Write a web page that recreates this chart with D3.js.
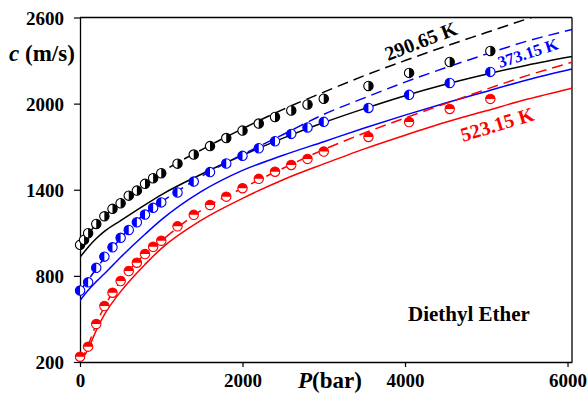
<!DOCTYPE html>
<html>
<head>
<meta charset="utf-8">
<title>Diethyl Ether</title>
<script src="https://d3js.org/d3.v7.min.js"></script>
<style>
    body { margin: 0; padding: 0; background: #fff; }
    svg { display: block; }
    text { font-family: "Liberation Serif", "Times New Roman", serif; font-weight: bold; }
</style>
</head>
<body>
<svg width="588" height="397"></svg>
<script>
// measured points, P in bar, c in m/s
var pBlack = [1, 50, 100, 200, 300, 400, 500, 600, 700, 800, 900, 1000, 1200, 1400, 1600, 1800, 2000, 2200, 2400, 2600, 2800, 3000, 3550, 4050, 4550, 5050];
var cBlack = [1016, 1051, 1097, 1162, 1215, 1267, 1306, 1359, 1394, 1441, 1480, 1515, 1582, 1645, 1704, 1760, 1812, 1861, 1907, 1952, 1994, 2034, 2123, 2214, 2290, 2367];
var pBlue = [1, 100, 200, 300, 400, 500, 600, 700, 800, 900, 1000, 1200, 1400, 1600, 1800, 2000, 2200, 2400, 2600, 2800, 3000, 3550, 4050, 4550, 5050];
var cBlue = [698, 755, 856, 934, 999, 1065, 1120, 1173, 1227, 1274, 1312, 1381, 1457, 1523, 1583, 1636, 1689, 1738, 1789, 1834, 1873, 1970, 2061, 2144, 2221];
var pRed = [1, 100, 200, 300, 400, 500, 600, 700, 800, 900, 1000, 1200, 1400, 1600, 1800, 2000, 2200, 2400, 2600, 2800, 3000, 3550, 4050, 4550, 5050];
var cRed = [237, 307, 465, 590, 683, 764, 834, 892, 952, 1003, 1045, 1145, 1225, 1294, 1352, 1411, 1476, 1526, 1573, 1615, 1666, 1768, 1872, 1963, 2033];

// curves (dashed = fit, solid = prediction)
var pLine = [0, 100, 200, 300, 500, 800, 1000, 1500, 2000, 2500, 3000, 3500, 4000, 4500, 5000, 5500, 6055];
var cBlackDash = [1016, 1090, 1160, 1215, 1310, 1440, 1520, 1680, 1825, 1960, 2080, 2195, 2300, 2400, 2495, 2590, 2690];
var cBlackSolid = [930, 1000, 1060, 1110, 1185, 1295, 1365, 1510, 1640, 1760, 1868, 1965, 2055, 2135, 2205, 2268, 2328];
var cBlueDash = [698, 770, 850, 925, 1062, 1235, 1315, 1495, 1645, 1785, 1925, 2040, 2150, 2250, 2345, 2435, 2516];
var cBlueSolid = [628, 700, 760, 815, 930, 1090, 1190, 1390, 1535, 1640, 1735, 1830, 1920, 2005, 2085, 2165, 2242];
var cRedDash = [200, 315, 465, 585, 764, 952, 1045, 1260, 1411, 1550, 1680, 1795, 1900, 2000, 2100, 2195, 2288];
var cRedSolid = [200, 290, 420, 530, 690, 880, 990, 1190, 1340, 1470, 1580, 1685, 1780, 1870, 1950, 2030, 2108];

var xTicks = [0, 2000, 4000, 6000];
var yTicks = [200, 800, 1400, 2000, 2600];

var svg = d3.select('svg');
var margin = { left: 80, right: 572, top: 17.5, bottom: 362 };

var x = d3.scaleLinear().domain([0, 6055]).range([margin.left, margin.right]);
var y = d3.scaleLinear().domain([200, 2600]).range([margin.bottom, margin.top]);

svg.append('clipPath').attr('id', 'plot')
    .append('rect')
    .attr('x', margin.left).attr('y', margin.top)
    .attr('width', margin.right - margin.left).attr('height', margin.bottom - margin.top);

// axes
var xAxis = svg.append('g')
    .attr('transform', 'translate(0,' + margin.bottom + ')')
    .call(d3.axisBottom(x).tickValues(xTicks).tickSize(5).tickSizeOuter(0).tickFormat(d3.format('d')));
var yAxis = svg.append('g')
    .attr('transform', 'translate(' + margin.left + ',0)')
    .call(d3.axisLeft(y).tickValues(yTicks).tickSize(6).tickSizeOuter(0).tickFormat(d3.format('d')));

xAxis.select('.domain').attr('stroke', '#000').attr('stroke-width', 1.3);
yAxis.select('.domain').attr('stroke', '#000').attr('stroke-width', 1.3);
xAxis.selectAll('.tick line').attr('stroke-width', 1.2);
yAxis.selectAll('.tick line').attr('stroke-width', 1.2);
xAxis.selectAll('.tick text')
    .attr('font-size', 19).attr('font-family', 'Liberation Serif').attr('font-weight', 'bold')
    .attr('fill', '#000').attr('y', 12);
yAxis.selectAll('.tick text')
    .attr('font-size', 19).attr('font-family', 'Liberation Serif').attr('font-weight', 'bold')
    .attr('fill', '#000').attr('x', -16).attr('dy', '0.35em');

// top and right border
svg.append('line').attr('x1', margin.left).attr('x2', margin.right).attr('y1', margin.top).attr('y2', margin.top)
    .attr('stroke', '#000').attr('stroke-width', 1.3);
svg.append('line').attr('x1', margin.right).attr('x2', margin.right).attr('y1', margin.top).attr('y2', margin.bottom)
    .attr('stroke', '#000').attr('stroke-width', 1.3);

// curves
var line = d3.line()
    .x(function(d) { return x(d[0]); })
    .y(function(d) { return y(d[1]); })
    .curve(d3.curveMonotoneX);

var curves = [
    { c: cBlackSolid, color: '#000', dash: null },
    { c: cBlueSolid, color: '#0000ff', dash: null },
    { c: cRedSolid, color: '#ff0000', dash: null },
    { c: cBlackDash, color: '#000', dash: '11,6' },
    { c: cBlueDash, color: '#0000ff', dash: '11,6' },
    { c: cRedDash, color: '#ff0000', dash: '11,6' }
];

var gLines = svg.append('g').attr('clip-path', 'url(#plot)');
curves.forEach(function(s) {
    gLines.append('path')
        .datum(pLine.map(function(p, i) { return [p, s.c[i]]; }))
        .attr('d', line)
        .attr('fill', 'none')
        .attr('stroke', s.color)
        .attr('stroke-width', 1.5)
        .attr('stroke-dasharray', s.dash);
});

// half filled markers
var r = 4.7;
var halfArc = d3.arc().innerRadius(0).outerRadius(r);
var series = [
    { p: pBlack, c: cBlack, color: '#000', a0: 0, a1: Math.PI },
    { p: pBlue, c: cBlue, color: '#0000ff', a0: Math.PI, a1: 2 * Math.PI },
    { p: pRed, c: cRed, color: '#ff0000', a0: -Math.PI / 2, a1: Math.PI / 2 }
];

series.forEach(function(s) {
    var pts = s.p.map(function(p, i) { return [p, s.c[i]]; });
    var g = svg.append('g').selectAll('g')
        .data(pts)
        .enter().append('g')
        .attr('transform', function(d) { return 'translate(' + x(d[0]) + ',' + y(d[1]) + ')'; });
    g.append('circle')
        .attr('r', r)
        .attr('fill', '#fff')
        .attr('stroke', s.color)
        .attr('stroke-width', 1.1);
    g.append('path')
        .attr('d', halfArc({ startAngle: s.a0, endAngle: s.a1 }))
        .attr('fill', s.color);
});

// axis titles
var yTitle = svg.append('text').attr('x', 9).attr('y', 61).attr('font-size', 23);
yTitle.append('tspan').attr('font-style', 'italic').text('c');
yTitle.append('tspan').text(' (m/s)');

var xTitle = svg.append('text').attr('x', 298).attr('y', 388).attr('font-size', 23);
xTitle.append('tspan').attr('font-style', 'italic').text('P');
xTitle.append('tspan').text('(bar)');

// temperature labels
svg.append('text')
    .attr('transform', 'translate(388,61) rotate(-21)')
    .attr('font-size', 20).attr('fill', '#000')
    .text('290.65 K');
svg.append('text')
    .attr('transform', 'translate(500,68) rotate(-18)')
    .attr('font-size', 16.5).attr('fill', '#0000ff')
    .text('373.15 K');
svg.append('text')
    .attr('transform', 'translate(463,142) rotate(-17)')
    .attr('font-size', 20).attr('fill', '#ff0000')
    .text('523.15 K');

svg.append('text')
    .attr('x', 408).attr('y', 321)
    .attr('font-size', 21)
    .text('Diethyl Ether');
</script>
</body>
</html>
